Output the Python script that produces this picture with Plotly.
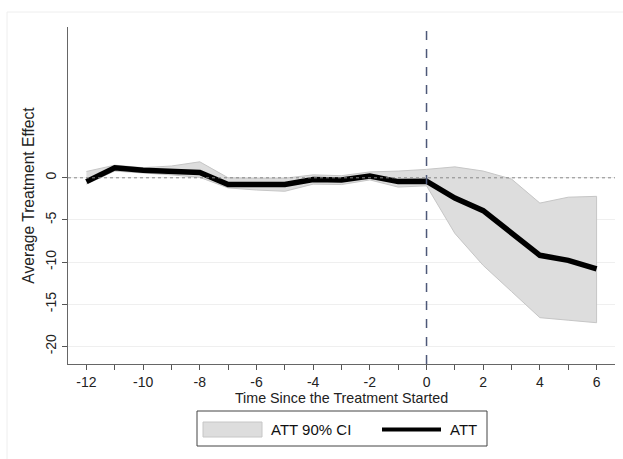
import plotly.graph_objects as go

periods = list(range(-12, 7))
att = [-0.45, 1.2, 0.9, 0.8, 0.63, -0.8, -0.75, -0.8, -0.2, -0.25, 0.2, -0.45, -0.4,
       -2.4, -3.9, -6.6, -9.2, -9.8, -10.8]
ci_upper = [0.75, 1.5, 1.2, 1.4, 1.9, 0.0, -0.05, -0.05, 0.35, 0.25, 0.7, 0.8, 1.0,
            1.3, 0.8, -0.15, -3.0, -2.3, -2.2]
ci_lower = [-0.75, 0.8, 0.6, 0.35, 0.05, -1.2, -1.45, -1.6, -0.75, -0.8, -0.25, -1.1, -0.95,
            -6.6, -10.4, -13.5, -16.6, -16.9, -17.2]
y_ticks = [0, -5, -10, -15, -20]
y_ticktext = ["0", "-5", "-10", "-15", "-20"]
x_ticktext = [str(p) if p % 2 == 0 else "" for p in periods]
legend_labels = ["ATT 90% CI", "ATT"]

font = "Liberation Sans, Arial, sans-serif"
FILL = "#dddddd"
EDGE = "#c6c6c6"

# plot-area geometry in pixels (for placing the hand-made legend)
L, R, T, B, W, H = 68, 8, 27, 95, 623, 459
PW, PH = W - L - R, H - T - B


def px(xp):
    return (xp - L) / PW


def py(yp):
    return (H - B - yp) / PH


fig = go.Figure()
fig.add_trace(go.Scatter(
    x=periods + periods[::-1], y=ci_upper + ci_lower[::-1],
    fill="toself", fillcolor=FILL, line=dict(color=EDGE, width=1),
    mode="lines", name=legend_labels[0], hoverinfo="skip", showlegend=False))
fig.add_trace(go.Scatter(
    x=periods, y=att, mode="lines", line=dict(color="black", width=5.5),
    name=legend_labels[1], showlegend=False))

fig.add_shape(type="line", xref="paper", x0=0, x1=1, yref="y", y0=0, y1=0,
              line=dict(color="#888888", width=1, dash="dot"), layer="above")
fig.add_shape(type="line", xref="x", x0=0, x1=0, yref="paper", y0=0, y1=1,
              line=dict(color="#4d5878", width=1.5, dash="dash"), layer="above")
# outer graph region frame
fig.add_shape(type="rect", xref="paper", yref="paper",
              x0=px(7), x1=px(640), y0=py(470), y1=py(12),
              line=dict(color="#eeeeee", width=1), layer="below")

# legend box
fig.add_shape(type="rect", xref="paper", yref="paper",
              x0=px(197), x1=px(487), y0=py(446), y1=py(411),
              line=dict(color="#444444", width=1), fillcolor="white")
fig.add_shape(type="rect", xref="paper", yref="paper",
              x0=px(203), x1=px(262), y0=py(437), y1=py(422),
              line=dict(color=EDGE, width=1), fillcolor=FILL)
fig.add_shape(type="line", xref="paper", yref="paper",
              x0=px(382), x1=px(441), y0=py(429.5), y1=py(429.5),
              line=dict(color="black", width=4))
for lbl, xl in zip(legend_labels, [269, 448]):
    fig.add_annotation(xref="paper", yref="paper", x=px(xl), y=py(429.5),
                       text=lbl, showarrow=False, xanchor="left", yanchor="middle",
                       font=dict(size=15, family=font, color="#111111"))

fig.update_layout(
    width=W, height=H,
    margin=dict(l=L, r=R, t=T, b=B),
    paper_bgcolor="white", plot_bgcolor="white",
    font=dict(family=font, size=14, color="#222222"),
    showlegend=False,
    xaxis=dict(range=[-12.65, 6.65], tickvals=periods, ticktext=x_ticktext,
               ticks="outside", ticklen=5, tickcolor="#555555",
               showline=True, linecolor="#666666", linewidth=1,
               showgrid=False, zeroline=False,
               tickfont=dict(size=14),
               title=dict(text="Time Since the Treatment Started", standoff=1,
                          font=dict(size=14.3))),
    yaxis=dict(range=[-22.1, 17.9], tickvals=y_ticks, ticktext=y_ticktext,
               tickangle=-90, ticks="outside", ticklen=5, tickcolor="#555555",
               showline=True, linecolor="#666666", linewidth=1,
               showgrid=True, gridcolor="#efefef", gridwidth=1, zeroline=False,
               tickfont=dict(size=14),
               title=dict(text="Average Treatment Effect", standoff=4,
                          font=dict(size=15.6))),
)

fig.write_html("out.html")
